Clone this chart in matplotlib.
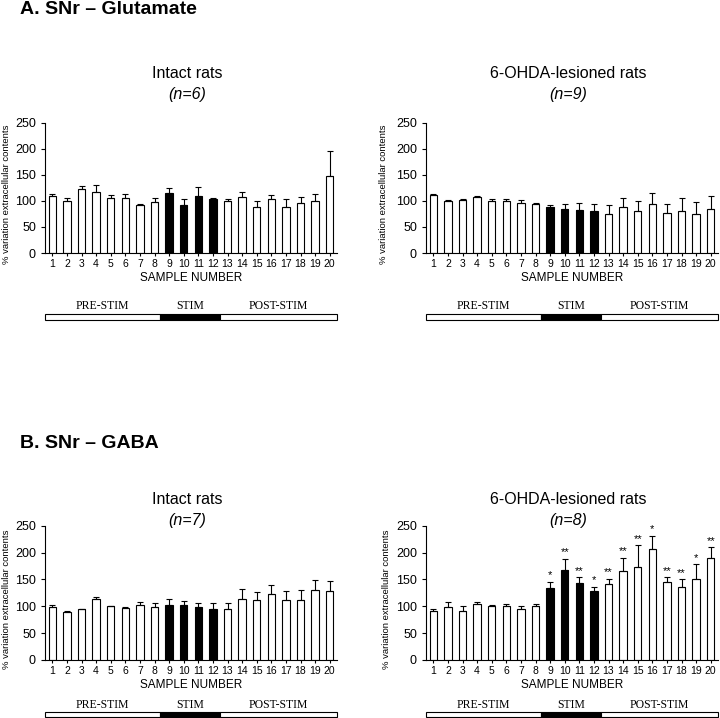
import numpy as np
import matplotlib
matplotlib.use("Agg")
import matplotlib.pyplot as plt

plt.rcParams['font.family'] = ['Liberation Sans', 'DejaVu Sans']

#Data (mean % of baseline, SEM upper bar)
samples = np.arange(1, 21)
stim_samples = [9, 10, 11, 12]

glu_intact = [110, 100, 122, 117, 104.5, 104.5, 92, 98, 114, 92,
              109.5, 103, 99, 107.5, 89, 104, 88.5, 95, 100.5, 148]
glu_intact_err = [3.5, 6, 5.5, 14, 6.5, 8.5, 2, 7, 10, 10.5,
                  16.5, 1.5, 3.5, 8.5, 11, 7, 14, 12.5, 12.5, 48]

glu_lesion = [110.7, 100, 100.7, 107, 100, 99.5, 96.4, 94.5, 88, 84.6,
              83.3, 81, 75, 87.7, 81, 93.3, 76.5, 80, 75, 84.6]
glu_lesion_err = [2.3, 2, 3.3, 2.5, 2.6, 4.5, 4.3, 1.3, 4.7, 8.7,
                  11.7, 12.3, 17, 18, 19, 22.4, 16.8, 25.7, 23, 24.4]

gaba_intact = [99, 89, 94.5, 113, 100, 96.5, 102, 99.5, 103, 102.5,
               99.5, 95, 94.5, 114, 112.5, 122.5, 112.5, 111, 130, 128]
gaba_intact_err = [3, 2.5, 1.2, 5, 1, 2.3, 6.6, 7.3, 10, 7.5,
                   6.5, 11.8, 11.1, 19, 14.5, 16.5, 15.5, 20, 18.6, 18.7]

gaba_lesion = [90.7, 98.8, 92, 104.3, 101.2, 100, 95.7, 100, 133.5, 168,
               143.5, 128, 142, 166, 174, 207, 145, 136.5, 151, 190]
gaba_lesion_err = [5, 9.2, 8, 3.7, 1.2, 3.7, 4.9, 3.7, 12.5, 20.5,
                   10.5, 8, 9.5, 24, 40, 24.5, 9.5, 13.5, 27, 20]
gaba_lesion_stars = ["", "", "", "", "", "", "", "", "*", "**",
                     "**", "*", "**", "**", "**", "*", "**", "**", "*", "**"]

phase_names = ["PRE-STIM", "STIM", "POST-STIM"]
phase_edges = [0.5, 8.4, 12.5, 20.5]
phase_colors = ["white", "black", "white"]

W, H = 720, 718
fig = plt.figure(figsize=(W / 100, H / 100), dpi=100)

def rect(x0, ytop, w, h):
    return [x0 / W, 1 - (ytop + h) / H, w / W, h / H]

def draw_panel(box, means, errs, title, n_text, title_y, ylab_x, stars=None):
    ax = fig.add_axes(rect(*box))
    colors = ['black' if s in stim_samples else 'white' for s in samples]
    ax.bar(samples, means, width=0.5, color=colors, edgecolor='black', linewidth=0.8)
    ax.errorbar(samples, means, yerr=[np.zeros(len(errs)), errs], fmt='none',
                ecolor='black', elinewidth=0.8, capsize=2.5, capthick=0.8)
    if stars:
        for s, m, e, st in zip(samples, means, errs, stars):
            if st:
                ax.annotate(st, (s, m + e), xytext=(0, 1), textcoords='offset points',
                            ha='center', va='bottom', fontsize=8)
    ax.set_xlim(0.5, 20.5)
    ax.set_ylim(0, 250)
    ax.set_yticks([0, 50, 100, 150, 200, 250])
    ax.set_xticks(samples)
    ax.tick_params(axis='y', labelsize=9, length=3, width=0.8)
    ax.tick_params(axis='x', labelsize=7.5, length=2.5, width=0.8, pad=2)
    for sp in ['top', 'right']:
        ax.spines[sp].set_visible(False)
    for sp in ['left', 'bottom']:
        ax.spines[sp].set_linewidth(0.8)
    ax.set_xlabel("SAMPLE NUMBER", fontsize=8.5, labelpad=2)
    ax.set_ylabel("% variation extracellular contents", fontsize=6.8)
    ax.yaxis.set_label_coords(ylab_x, 0.45)
    cx = (box[0] + box[2] / 2 - 4) / W
    fig.text(cx, 1 - title_y / H, title, ha='center', va='center', fontsize=11.5)
    fig.text(cx, 1 - (title_y + 21) / H, n_text, ha='center', va='center',
             fontsize=11.5, style='italic')
    return ax

def draw_phases(box, label_gap):
    ax = fig.add_axes(rect(*box))
    for name, l, r, c in zip(phase_names, phase_edges[:-1], phase_edges[1:], phase_colors):
        ax.barh(0, r - l, left=l, height=1, color=c, edgecolor='black', linewidth=0.8,
                clip_on=False)
        ax.annotate(name, ((l + r) / 2, 0.5), xytext=(0, label_gap), textcoords='offset points',
                    ha='center', va='bottom', fontsize=8.5,
                    family=['Liberation Serif', 'DejaVu Serif'])
    ax.set_xlim(0.5, 20.5)
    ax.set_ylim(-0.5, 0.5)
    ax.axis('off')

#Section A: glutamate
fig.text(20 / W, 1 - 10 / H, "A. SNr – Glutamate", fontsize=14, fontweight='bold', va='center')
draw_panel((45, 122.5, 292, 130.5), glu_intact, glu_intact_err, "Intact rats", "(n=6)", 74, -0.115)
draw_panel((426, 122.5, 292, 130.5), glu_lesion, glu_lesion_err, "6-OHDA-lesioned rats", "(n=9)", 74, -0.13)
draw_phases((45, 314.5, 292, 6), 2)
draw_phases((426, 314.5, 292, 6), 2)

#Section B: GABA
fig.text(20 / W, 1 - 443 / H, "B. SNr – GABA", fontsize=14, fontweight='bold', va='center')
draw_panel((45, 525.7, 292, 134.3), gaba_intact, gaba_intact_err, "Intact rats", "(n=7)", 499, -0.115)
draw_panel((426, 525.7, 292, 134.3), gaba_lesion, gaba_lesion_err, "6-OHDA-lesioned rats", "(n=8)", 499, -0.12,
           stars=gaba_lesion_stars)
draw_phases((45, 711.5, 292, 5.5), 0.5)
draw_phases((426, 711.5, 292, 5.5), 0.5)

fig.savefig("out.png", dpi=100)
